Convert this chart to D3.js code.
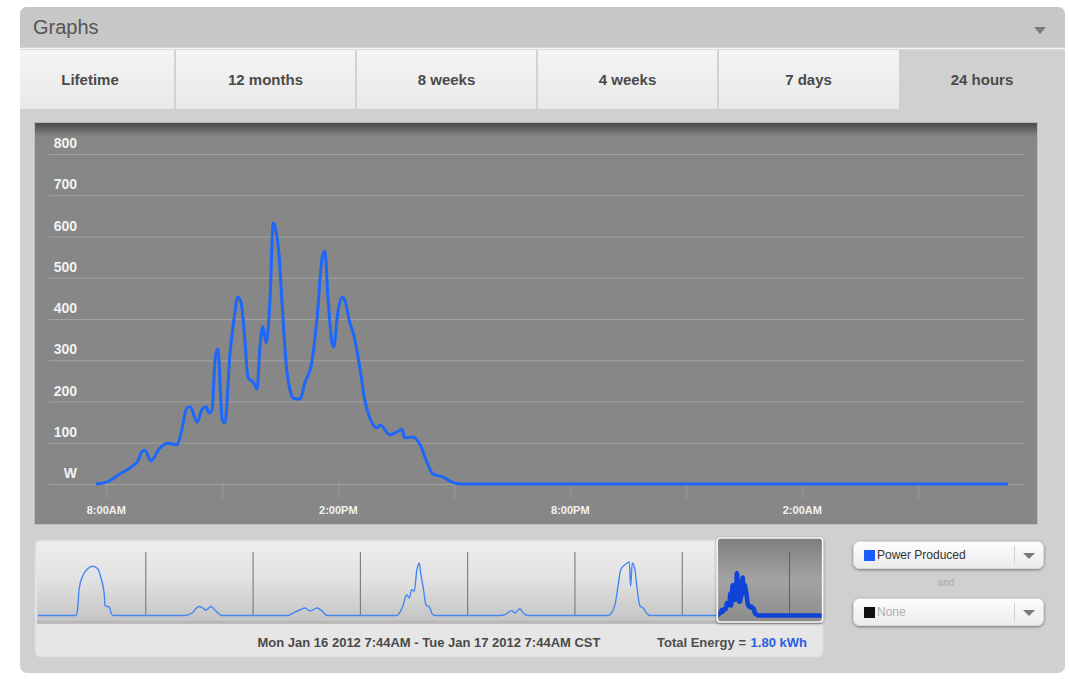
<!DOCTYPE html>
<meta charset="utf-8">
<html>
<head>
<script src="https://d3js.org/d3.v7.min.js"></script>
<style>
  body { margin: 0; background: #fff; }
  svg text { font-family: "Liberation Sans", Arial, sans-serif; }
</style>
</head>
<body>
<div id="chartContainer"></div>
<script>
// 24 hour power readings from Mon Jan 16 2012 7:44AM (watts)
var hourTimes = ["07:44","08:01","08:21","08:41","08:49","08:55","09:00","09:09","09:23","09:36",
  "09:50","09:57","10:05","10:10","10:21","10:28","10:35","10:39","10:44","10:49",
  "10:53","11:00","11:04","11:12","11:18","11:24","11:29","11:35","11:40","11:48",
  "11:54","11:58","12:03","12:08","12:14","12:19","12:23","12:28","12:34","12:40",
  "12:45","12:50","13:01","13:08","13:19","13:27","13:35","13:39","13:44","13:50",
  "13:53","13:59","14:06","14:10","14:18","14:24","14:34","14:41","14:49","15:00",
  "15:05","15:20","15:31","15:39","15:43","15:56","16:07","16:18","16:27","16:42",
  "16:56","17:09","07:19"];
var hourWatts = [0,5,24,44,56,78,82,56,87,99,
  95,131,184,187,150,179,187,172,179,305,
  327,155,148,318,398,453,441,349,257,247,
  230,325,381,342,446,633,616,555,405,276,
  228,208,206,245,296,402,550,565,453,344,
  332,414,453,446,390,361,276,204,160,136,
  143,119,126,133,112,114,95,51,24,17,
  5,0,0];

// overview strip, the days before (Jan 10 - Jan 15)
var weekTimes = [
  "2012-01-10 08:30","2012-01-10 08:50","2012-01-10 09:14","2012-01-10 10:00","2012-01-10 11:07",
  "2012-01-10 12:14","2012-01-10 13:21","2012-01-10 14:05","2012-01-10 14:50","2012-01-10 14:59",
  "2012-01-10 15:57","2012-01-10 16:20","2012-01-10 16:50",
  "2012-01-11 08:53","2012-01-11 10:27","2012-01-11 12:01","2012-01-11 12:41","2012-01-11 13:35",
  "2012-01-11 14:42","2012-01-11 15:49","2012-01-11 17:10",
  "2012-01-12 07:55","2012-01-12 09:02","2012-01-12 10:36","2012-01-12 11:43","2012-01-12 12:50",
  "2012-01-12 14:25","2012-01-12 15:32","2012-01-12 16:38",
  "2012-01-13 08:05","2012-01-13 08:31","2012-01-13 09:38","2012-01-13 10:28","2012-01-13 11:03",
  "2012-01-13 11:35","2012-01-13 12:10","2012-01-13 12:43","2012-01-13 13:17","2012-01-13 13:36",
  "2012-01-13 14:11","2012-01-13 14:47","2012-01-13 15:41","2012-01-13 16:04","2012-01-13 16:48",
  "2012-01-14 07:20","2012-01-14 08:27","2012-01-14 09:57","2012-01-14 10:41","2012-01-14 11:49",
  "2012-01-14 12:33","2012-01-14 13:40",
  "2012-01-15 07:30","2012-01-15 07:56","2012-01-15 09:04","2012-01-15 09:48","2012-01-15 10:20",
  "2012-01-15 11:18","2012-01-15 12:16","2012-01-15 12:34","2012-01-15 12:56","2012-01-15 13:32",
  "2012-01-15 13:55","2012-01-15 14:39","2012-01-15 15:23","2012-01-15 16:09","2012-01-15 16:53"];
var weekWatts = [
  0,82,410,589,697, 733,697,559,310,142, 127,37,0,
  0,37,134,119,82, 134,67,0,
  0,37,82,112,67, 112,67,0,
  0,12,142,310,261, 384,361,663,782,633, 410,161,112,37,0,
  0,12,72,37,101, 37,0,
  0,12,161,459,682, 757,797,435,782,682, 459,142,112,37,0];

var tabNames = ["Lifetime", "12 months", "8 weeks", "4 weeks", "7 days", "24 hours"];
var yTicks = [0, 100, 200, 300, 400, 500, 600, 700, 800];
var seriesNames = ["Power Produced", "None"];

var W = 1069, H = 686;
var svg = d3.select("#chartContainer").append("svg").attr("width", W).attr("height", H);
var defs = svg.append("defs");

function grad(id, stops) {
  var g = defs.append("linearGradient").attr("id", id)
    .attr("x1", 0).attr("y1", 0).attr("x2", 0).attr("y2", 1);
  stops.forEach(function (s) { g.append("stop").attr("offset", s[0]).attr("stop-color", s[1]); });
}
grad("tabGrad", [[0, "#f4f4f4"], [1, "#e9e9e9"]]);
grad("topShade", [[0, "#4a4a4a"], [1, "#878787"]]);
grad("miniGrad", [[0, "#eeeeee"], [0.45, "#e2e2e2"], [1, "#c4c4c4"]]);
grad("winGrad", [[0, "#7d7d7d"], [0.5, "#a3a3a3"], [1, "#8c8c8c"]]);
grad("ddGrad", [[0, "#fdfdfd"], [1, "#ebebeb"]]);
defs.append("filter").attr("id", "shadow").attr("x", -0.2).attr("y", -0.2).attr("width", 1.4).attr("height", 1.4)
  .append("feDropShadow").attr("dx", 0).attr("dy", 1).attr("stdDeviation", 1.5).attr("flood-opacity", 0.45);

// card + header
defs.append("clipPath").attr("id", "cardClip")
  .append("rect").attr("x", 20).attr("y", 7).attr("width", 1045).attr("height", 666).attr("rx", 7);
var card = svg.append("g").attr("clip-path", "url(#cardClip)");
card.append("rect").attr("x", 20).attr("y", 7).attr("width", 1045).attr("height", 666).attr("fill", "#d0d0d0");
card.append("rect").attr("x", 20).attr("y", 7).attr("width", 1045).attr("height", 41).attr("fill", "#c7c7c7");
card.append("line").attr("x1", 20).attr("x2", 1065).attr("y1", 48.5).attr("y2", 48.5)
  .attr("stroke", "#f6f6f6").attr("stroke-width", 1.5);
svg.append("text").attr("x", 33).attr("y", 34).attr("font-size", 20).attr("fill", "#555").text("Graphs");
svg.append("path").attr("d", "M1034,27L1046,27L1040,34Z").attr("fill", "#7b7b7b");

// tabs
var tabEdges = [5, 175, 356, 537, 718, 899, 1065];
tabNames.forEach(function (name, i) {
  var active = i === tabNames.length - 1;
  card.append("rect").attr("x", tabEdges[i]).attr("y", 50)
    .attr("width", tabEdges[i + 1] - tabEdges[i]).attr("height", 59)
    .attr("fill", active ? "#d0d0d0" : "url(#tabGrad)");
  if (i > 0 && !active)
    card.append("line").attr("x1", tabEdges[i]).attr("x2", tabEdges[i]).attr("y1", 50).attr("y2", 109)
      .attr("stroke", "#d2d2d2").attr("stroke-width", 2);
  svg.append("text").attr("x", (tabEdges[i] + tabEdges[i + 1]) / 2).attr("y", 85)
    .attr("text-anchor", "middle").attr("font-size", 15).attr("font-weight", "bold")
    .attr("fill", "#4a4a4a").text(name);
});

// main chart panel
svg.append("rect").attr("x", 34.5).attr("y", 122.5).attr("width", 1003).attr("height", 402)
  .attr("fill", "#878787").attr("stroke", "#bdbdbd");
svg.append("rect").attr("x", 35).attr("y", 123).attr("width", 1002).attr("height", 14).attr("fill", "url(#topShade)");

var parseT = d3.timeParse("%Y-%m-%d %H:%M");
var start = parseT("2012-01-16 07:44"), end = parseT("2012-01-17 07:44");
function dayTime(s) {
  var d = parseT("2012-01-16 " + s);
  if (d < start) d = d3.timeDay.offset(d, 1);
  return d;
}
var hourData = hourTimes.map(function (t, i) { return { date: dayTime(t), w: hourWatts[i] }; });

var x = d3.scaleTime().domain([start, end]).range([96, 1024]);
var y = d3.scaleLinear().domain([0, 800]).range([484, 154]);

var grid = svg.append("g");
yTicks.forEach(function (v) {
  grid.append("line").attr("x1", 49).attr("x2", 1025).attr("y1", y(v) + 0.5).attr("y2", y(v) + 0.5)
    .attr("stroke", "#a2a2a2");
  grid.append("text").attr("x", 77).attr("y", y(v) - 6).attr("text-anchor", "end")
    .attr("font-size", 14).attr("font-weight", "bold").attr("fill", "#f2f2f2")
    .text(v === 0 ? "W" : v);
});

var hourTicks = d3.timeHour.range(start, end).filter(function (d) { return d.getHours() % 3 === 2; });
var fmt = d3.timeFormat("%-I:%M%p");
hourTicks.forEach(function (d) {
  grid.append("line").attr("x1", x(d) + 0.5).attr("x2", x(d) + 0.5).attr("y1", 485).attr("y2", 498)
    .attr("stroke", "#9f9f9f");
  if (d.getHours() % 6 === 2)
    grid.append("text").attr("x", x(d)).attr("y", 514).attr("text-anchor", "middle")
      .attr("font-size", 11).attr("font-weight", "bold").attr("fill", "#f2f2f2").text(fmt(d));
});

var line = d3.line().x(function (d) { return x(d.date); }).y(function (d) { return y(d.w); })
  .curve(d3.curveMonotoneX);
svg.append("path").datum(hourData).attr("d", line).attr("fill", "none")
  .attr("stroke", "#1d68fb").attr("stroke-width", 3).attr("stroke-linejoin", "round");

// overview strip
svg.append("rect").attr("x", 35).attr("y", 540).attr("width", 788).attr("height", 117).attr("rx", 5)
  .attr("fill", "#e6e6e6").attr("stroke", "#dadada");
svg.append("rect").attr("x", 37).attr("y", 542).attr("width", 785).attr("height", 80)
  .attr("fill", "url(#miniGrad)");
svg.append("rect").attr("x", 37).attr("y", 621).attr("width", 785).attr("height", 3)
  .attr("fill", "#a9a9a9").attr("opacity", 0.7);

var weekStart = parseT("2012-01-10 00:00");
var mx = d3.scaleTime().domain([weekStart, end]).range([38, 823.6]);
var my = d3.scaleLinear().domain([0, 800]).range([615.5, 561.8]);
d3.timeDay.range(d3.timeDay.offset(weekStart, 1), end).forEach(function (d) {
  svg.append("line").attr("x1", mx(d) + 0.5).attr("x2", mx(d) + 0.5).attr("y1", 552).attr("y2", 616)
    .attr("stroke", "#707070");
});
var weekData = [{ date: weekStart, w: 0 }]
  .concat(weekTimes.map(function (t, i) { return { date: parseT(t), w: weekWatts[i] }; }))
  .concat(hourData).concat([{ date: end, w: 0 }]);
var mline = d3.line().x(function (d) { return mx(d.date); }).y(function (d) { return my(d.w); })
  .curve(d3.curveMonotoneX);
svg.append("path").datum(weekData).attr("d", mline).attr("fill", "none")
  .attr("stroke", "#4586f3").attr("stroke-width", 1.4);

// selected window
var wx0 = mx(start) + 1, wx1 = mx(end) - 1;
svg.append("rect").attr("x", wx0).attr("y", 538).attr("width", wx1 - wx0).attr("height", 84).attr("rx", 3)
  .attr("fill", "url(#winGrad)").attr("stroke", "#f4f4f4").attr("stroke-width", 1.5)
  .attr("filter", "url(#shadow)");
defs.append("clipPath").attr("id", "winClip")
  .append("rect").attr("x", wx0 + 1).attr("y", 539).attr("width", wx1 - wx0 - 2).attr("height", 82);
var win = svg.append("g").attr("clip-path", "url(#winClip)");
win.append("line").attr("x1", mx(parseT("2012-01-17 00:00")) + 0.5).attr("x2", mx(parseT("2012-01-17 00:00")) + 0.5)
  .attr("y1", 552).attr("y2", 616).attr("stroke", "#5f5f5f");
win.append("path").datum(hourData.concat([{ date: end, w: 0 }])).attr("d", mline).attr("fill", "none")
  .attr("stroke", "#0f43d8").attr("stroke-width", 4.5).attr("stroke-linejoin", "round");

svg.append("text").attr("x", 429).attr("y", 647).attr("text-anchor", "middle")
  .attr("font-size", 13).attr("font-weight", "bold").attr("fill", "#4a4a4a")
  .text("Mon Jan 16 2012 7:44AM - Tue Jan 17 2012 7:44AM CST");
var tot = svg.append("text").attr("x", 657).attr("y", 647).attr("font-size", 13).attr("font-weight", "bold");
tot.append("tspan").attr("fill", "#4f4f4f").text("Total Energy = ");
tot.append("tspan").attr("fill", "#2a5ee0").attr("dx", 1).text("1.80 kWh");

// series pickers
var pickColors = ["#1a5cff", "#111111"];
var pickText = ["#333333", "#b0b0b0"];
[541, 598].forEach(function (top, i) {
  var g = svg.append("g");
  g.append("rect").attr("x", 853.5).attr("y", top + 0.5).attr("width", 190).attr("height", 27).attr("rx", 6)
    .attr("fill", "url(#ddGrad)").attr("stroke", "#d9d9d9").attr("filter", "url(#shadow)");
  g.append("line").attr("x1", 1014.5).attr("x2", 1014.5).attr("y1", top + 5).attr("y2", top + 23)
    .attr("stroke", "#cfcfcf");
  g.append("path").attr("d", "M1023," + (top + 12) + "L1035," + (top + 12) + "L1029," + (top + 18) + "Z")
    .attr("fill", "#7a7a7a");
  g.append("rect").attr("x", 864).attr("y", top + 9).attr("width", 11).attr("height", 11).attr("fill", pickColors[i]);
  g.append("text").attr("x", 877).attr("y", top + 18).attr("font-size", 12).attr("fill", pickText[i])
    .text(seriesNames[i]);
});
svg.append("text").attr("x", 946).attr("y", 586).attr("text-anchor", "middle").attr("font-size", 10)
  .attr("fill", "#ababab").text("and");
</script>
</body>
</html>
